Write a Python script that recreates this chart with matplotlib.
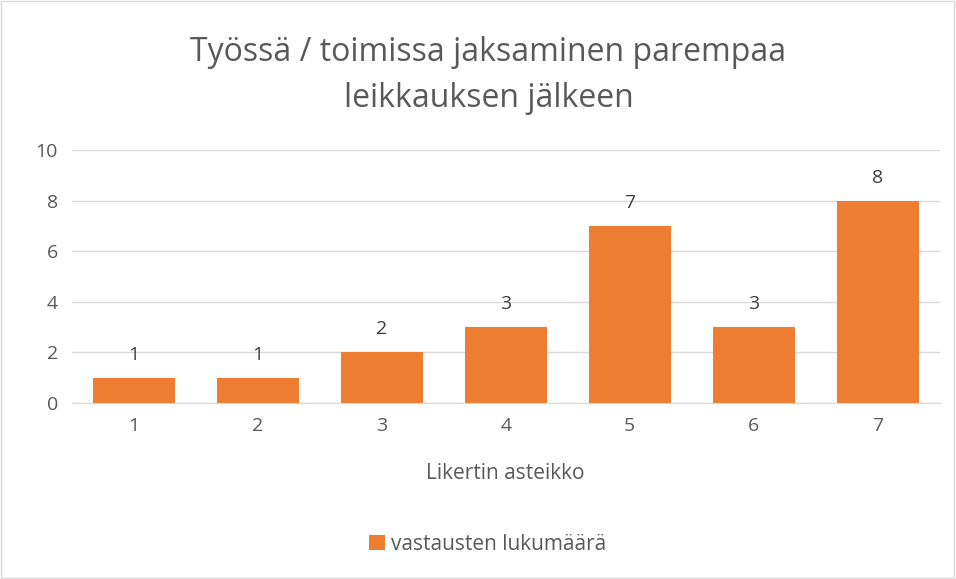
import matplotlib
matplotlib.use("Agg")
import matplotlib.pyplot as plt
from matplotlib.patches import Rectangle

# Data
categories = ['1', '2', '3', '4', '5', '6', '7']
counts = [1, 1, 2, 3, 7, 3, 8]
y_ticks = [0, 2, 4, 6, 8, 10]

bar_color = '#ED7D31'
text_color = '#595959'
grid_color = '#D9D9D9'

plt.rcParams['font.family'] = ['Open Sans', 'DejaVu Sans']

fig = plt.figure(figsize=(9.56, 5.79), dpi=100)
ax = fig.add_axes([0.075, 0.304, 0.908, 0.437])

x = range(len(categories))
bars = ax.bar(x, counts, width=0.66, color=bar_color, zorder=3, label='vastausten lukumäärä')

# Value labels above bars
for xi, val in zip(x, counts):
    ax.text(xi, val + 0.55, str(val), ha='center', va='bottom', fontsize=14, color='#404040')

ax.set_xlim(-0.5, len(categories) - 0.5)
ax.set_ylim(0, 10)
ax.set_yticks(y_ticks)
ax.set_xticks(list(x))
ax.set_xticklabels(categories)
ax.tick_params(axis='both', length=0, labelsize=14, labelcolor=text_color, pad=10)
ax.grid(axis='y', color=grid_color, linewidth=1, zorder=0)
for side in ['top', 'right', 'left']:
    ax.spines[side].set_visible(False)
ax.spines['bottom'].set_color(grid_color)
ax.spines['bottom'].set_zorder(4)

ax.set_xlabel('Likertin asteikko', fontsize=15, color=text_color, labelpad=20)

fig.text(0.511, 0.870, 'Työssä / toimissa jaksaminen parempaa\nleikkauksen jälkeen',
         ha='center', va='center', fontsize=23, color=text_color, linespacing=1.5)

fig.legend(handles=[bars], labels=['vastausten lukumäärä'], loc='center',
           bbox_to_anchor=(0.51, 0.060), frameon=False, fontsize=15,
           labelcolor=text_color, handlelength=0.75, handleheight=0.75, handletextpad=0.3)

# Chart area border
fig.patches.append(Rectangle((0.001, 0.002), 0.997, 0.996, transform=fig.transFigure,
                             fill=False, edgecolor='#D9D9D9', linewidth=1))

plt.savefig('out.png', dpi=100)
